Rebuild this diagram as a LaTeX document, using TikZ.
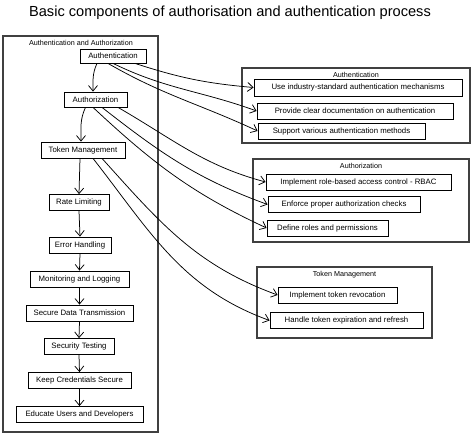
\documentclass[tikz,border=0pt]{standalone}
\usepackage{fontspec}
\setmainfont{Liberation Sans}
\usetikzlibrary{arrows.meta}
\tikzset{
  box/.style={draw, line width=0.8pt, minimum height=16pt, inner sep=0pt, font=\fontsize{7.8}{9}\selectfont},
  group/.style={draw=black!75, line width=1.2pt, inner sep=0pt},
  glabel/.style={font=\fontsize{7.2}{8}\selectfont, inner sep=0pt},
  arr/.style={line width=0.75pt, -{Straight Barb[length=5.5pt,width=9pt]}},
}
\begin{document}
\begin{tikzpicture}[x=1pt,y=-1pt]
\useasboundingbox (0,0) rectangle (474,435);
\node[font=\fontsize{14.6}{17}\selectfont] (title) at (230,13) {Basic components of authorisation and authentication process};
% left column
\node[group, minimum width=155pt, minimum height=396pt] (left) at (80.5,234) {};
\node[glabel] (leftlbl) at (81,42.5) {Authentication and Authorization};
\node[box, minimum width=66pt, minimum height=14pt] (auth) at (113,56) {Authentication};
\node[box, minimum width=63pt, minimum height=15pt] (authz) at (95.5,99.5) {Authorization};
\node[box, minimum width=84pt] (token) at (83,150) {Token Management};
\node[box, minimum width=60pt] (rate) at (79,202.5) {Rate Limiting};
\node[box, minimum width=62pt] (error) at (80,245) {Error Handling};
\node[box, minimum width=99pt] (monitor) at (79.5,279) {Monitoring and Logging};
\node[box, minimum width=107pt] (secure) at (79.5,313) {Secure Data Transmission};
\node[box, minimum width=70pt] (sectest) at (79,346.5) {Security Testing};
\node[box, minimum width=103pt] (keep) at (79.5,380.5) {Keep Credentials Secure};
\node[box, minimum width=127pt] (educate) at (79.5,414.5) {Educate Users and Developers};
% group 1
\node[group, minimum width=228pt, minimum height=75pt] (g1) at (356,105.5) {};
\node[glabel] (g1lbl) at (356,75) {Authentication};
\node[box, minimum width=208pt, minimum height=17pt] (use) at (358,87.5) {Use industry-standard authentication mechanisms};
\node[box, minimum width=196pt] (provide) at (355,111) {Provide clear documentation on authentication};
\node[box, minimum width=167pt] (support) at (341.5,131) {Support various authentication methods};
% group 2
\node[group, minimum width=216pt, minimum height=83pt] (g2) at (361,200.5) {};
\node[glabel] (g2lbl) at (361,165.5) {Authorization};
\node[box, minimum width=185pt] (rbac) at (358.5,182) {Implement role-based access control - RBAC};
\node[box, minimum width=152pt] (enforce) at (344,204.5) {Enforce proper authorization checks};
\node[box, minimum width=121pt] (define) at (327.5,228) {Define roles and permissions};
% group 3
\node[group, minimum width=175pt, minimum height=71pt] (g3) at (344.5,302.5) {};
\node[glabel] (g3lbl) at (344.5,274.5) {Token Management};
\node[box, minimum width=119pt] (revoke) at (337.5,295) {Implement token revocation};
\node[box, minimum width=153pt] (handle) at (346.5,320.5) {Handle token expiration and refresh};
% vertical flow
\draw[arr] ([xshift=-16pt]auth.south) to[out=-115,in=90] ([xshift=-2.5pt]authz.north);
\draw[arr] ([xshift=-10pt]authz.south) to[out=-115,in=90] ([xshift=-2pt]token.north);
\draw[arr] ([xshift=-3pt]token.south) -- (rate.north);
\draw[arr] (rate.south) -- (error.north);
\draw[arr] (error.south) -- (monitor.north);
\draw[arr] (monitor.south) -- (secure.north);
\draw[arr] (secure.south) -- (sectest.north);
\draw[arr] (sectest.south) -- (keep.north);
\draw[arr] (keep.south) -- (educate.north);
% fan-outs
\draw[arr] ([xshift=22pt]auth.south) to[out=-18,in=175] (use.west);
\draw[arr] ([xshift=0pt]auth.south) to[out=-26,in=160] (provide.west);
\draw[arr] ([xshift=-5pt]auth.south) to[out=-30,in=155] (support.west);
\draw[arr] ([xshift=22.5pt]authz.south) to[out=-30,in=165] (rbac.west);
\draw[arr] ([xshift=6.5pt]authz.south) to[out=-38,in=160] (enforce.west);
\draw[arr] ([xshift=-2.5pt]authz.south) to[out=-43,in=155] (define.west);
\draw[arr] ([xshift=19pt]token.south) to[out=-48,in=160] (revoke.west);
\draw[arr] ([xshift=10pt]token.south) to[out=-52,in=160] (handle.west);
\end{tikzpicture}
\end{document}
